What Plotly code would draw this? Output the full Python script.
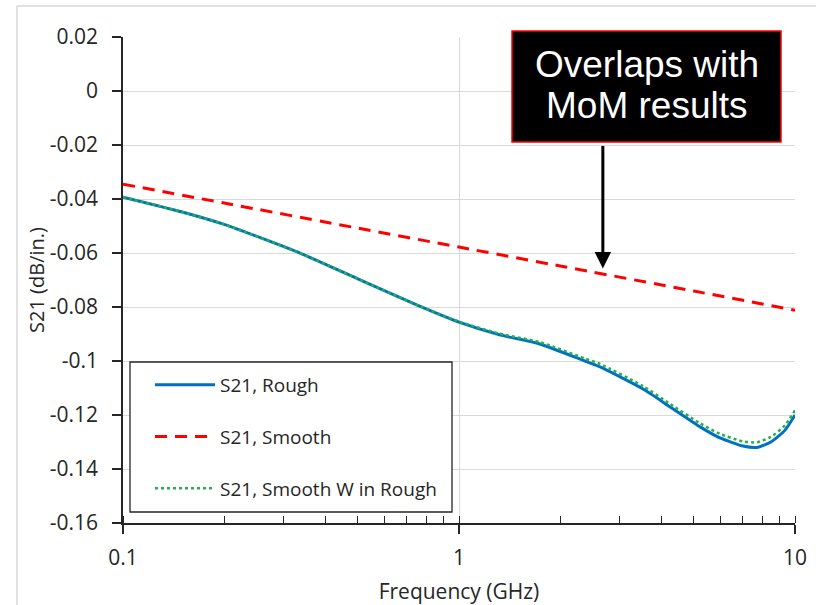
import plotly.graph_objects as go
import math

# ---------------- data ----------------
freq_rough = [0.1, 0.15, 0.2, 0.33, 0.5, 0.751, 1.0, 1.313, 1.74, 2.37, 2.63, 3.53, 4.25, 5.22, 5.98, 7.0, 7.71, 8.48, 9.34, 10.0]
s21_rough = [-0.0393, -0.0448, -0.0494, -0.0596, -0.0696, -0.0793, -0.0856, -0.0902, -0.0937, -0.1000,
             -0.1022, -0.1104, -0.1170, -0.1244, -0.1285, -0.1315, -0.1320, -0.1300, -0.1256, -0.1200]

freq_smooth = [0.1, 0.2, 0.5, 1.0, 2.0, 5.0, 10.0]
s21_smooth = [-0.0345, -0.0415, -0.0508, -0.0578, -0.0648, -0.0741, -0.0812]

freq_smw = [0.1, 0.15, 0.2, 0.33, 0.5, 0.751, 1.0, 1.313, 1.74, 2.37, 2.63, 3.53, 4.25, 5.22, 5.98, 7.0, 7.71, 8.48, 9.34, 10.0]
s21_smw = [-0.0393, -0.0448, -0.0494, -0.0596, -0.0696, -0.0793, -0.0854, -0.0898, -0.0930, -0.0991,
           -0.1011, -0.1093, -0.1159, -0.1231, -0.1270, -0.1298, -0.1301, -0.1281, -0.1238, -0.1183]

series_names = ["S21, Rough", "S21, Smooth", "S21, Smooth W in Rough"]

x_tick_vals = [0.1, 1, 10]
x_tick_text = ["0.1", "1", "10"]
y_tick_vals = [0.02, 0, -0.02, -0.04, -0.06, -0.08, -0.1, -0.12, -0.14, -0.16]
y_tick_text = ["0.02", "0", "-0.02", "-0.04", "-0.06", "-0.08", "-0.1", "-0.12", "-0.14", "-0.16"]

arrow_freq = 2.68
arrow_val = -0.0657

# ---------------- layout geometry ----------------
W, H = 816, 605
L, R, T, B = 123, 21, 37, 82
PW = W - L - R
PH = H - T - B


def px(x):
    return (x - L) / PW


def py(y):
    return (H - B - y) / PH


TXT = "#262626"
FONT = "Open Sans"
SM = 0.6

fig = go.Figure()
fig.add_trace(go.Scatter(x=freq_rough, y=s21_rough, name=series_names[0], mode="lines",
                         line=dict(color="#0070C0", width=3, shape="spline", smoothing=SM),
                         legendgroup="a"))
fig.add_trace(go.Scatter(x=freq_smooth, y=s21_smooth, name=series_names[1], mode="lines",
                         line=dict(color="#FF0000", width=3, dash="12px,8px", shape="spline", smoothing=SM),
                         legendgroup="b"))
fig.add_trace(go.Scatter(x=freq_smw, y=s21_smw, name=series_names[2], mode="lines",
                         line=dict(color="#22B14C", width=2.5, dash="dot", shape="spline", smoothing=SM),
                         legendgroup="c"))

shapes = [
    # outer chart border (top and left)
    dict(type="line", xref="paper", yref="paper", x0=px(17), x1=px(W + 5), y0=py(6), y1=py(6),
         line=dict(color="#D9D9D9", width=1.5), layer="below"),
    dict(type="line", xref="paper", yref="paper", x0=px(17), x1=px(17), y0=py(6), y1=py(H + 5),
         line=dict(color="#D9D9D9", width=1.5), layer="below"),
    # legend box
    dict(type="rect", xref="paper", yref="paper", x0=px(130), x1=px(452), y0=py(362), y1=py(512),
         fillcolor="white", line=dict(color="#262626", width=1.3), layer="above"),
    # annotation box
    dict(type="rect", xref="paper", yref="paper", x0=px(512), x1=px(781), y0=py(31), y1=py(142),
         fillcolor="black", line=dict(color="#FF0000", width=1.5), layer="above"),
]

annotations = [
    dict(xref="paper", yref="paper", x=px(646.5), y=py(64.5), text="Overlaps with", showarrow=False,
         font=dict(family="Liberation Sans", size=37, color="white"), xanchor="center", yanchor="middle"),
    dict(xref="paper", yref="paper", x=px(646.5), y=py(105), text="MoM results", showarrow=False,
         font=dict(family="Liberation Sans", size=37, color="white"), xanchor="center", yanchor="middle"),
    dict(xref="x", yref="y", x=math.log10(arrow_freq), y=arrow_val, text="", showarrow=True,
         ax=0, ay=-124, arrowhead=2, arrowsize=1.1, arrowwidth=3, arrowcolor="black", standoff=0),
]

fig.update_layout(
    width=W, height=H,
    margin=dict(l=L, r=R, t=T, b=B, pad=0, autoexpand=False),
    paper_bgcolor="white", plot_bgcolor="white",
    font=dict(family=FONT, color=TXT),
    showlegend=True,
    legend=dict(x=px(150), y=py(366), xanchor="left", yanchor="top",
                bgcolor="rgba(0,0,0,0)", borderwidth=0,
                font=dict(family=FONT, size=19, color=TXT),
                tracegroupgap=24, itemwidth=60),
    shapes=shapes,
    annotations=annotations,
    xaxis=dict(type="log", range=[-1, 1], tickvals=x_tick_vals, ticktext=x_tick_text,
               automargin=False,
               showgrid=True, gridcolor="#D9D9D9", gridwidth=1.3,
               showline=True, linecolor="#262626", linewidth=1.5,
               ticks="outside", ticklen=9, tickwidth=1.5, tickcolor="#262626",
               tickfont=dict(size=21, family=FONT, color=TXT),
               ticklabelstandoff=6,
               minor=dict(ticks="inside", ticklen=7, tickwidth=1.3, tickcolor="#262626",
                          dtick="D1", showgrid=False),
               title=dict(text="Frequency (GHz)", font=dict(size=21, family=FONT, color=TXT), standoff=16),
               zeroline=False),
    yaxis=dict(range=[-0.16, 0.02], tickvals=y_tick_vals, ticktext=y_tick_text,
               automargin=False,
               showgrid=True, gridcolor="#D9D9D9", gridwidth=1.3,
               showline=True, linecolor="#262626", linewidth=1.5,
               ticks="outside", ticklen=9, tickwidth=1.5, tickcolor="#262626",
               tickfont=dict(size=21, family=FONT, color=TXT),
               ticklabelstandoff=10,
               title=dict(text="S21 (dB/in.)", font=dict(size=20, family=FONT, color=TXT), standoff=0),
               zeroline=False),
    xaxis2=dict(type="log", range=[-1, 1], overlaying="x", anchor="y", side="bottom",
                automargin=False,
                tickvals=x_tick_vals, showticklabels=False, ticks="inside", ticklen=7, tickwidth=1.5,
                tickcolor="#262626", showgrid=False, showline=False, zeroline=False),
    yaxis2=dict(range=[-0.16, 0.02], overlaying="y", anchor="x", side="left",
                automargin=False,
                tickvals=y_tick_vals, showticklabels=False, ticks="inside", ticklen=7, tickwidth=1.5,
                tickcolor="#262626", showgrid=False, showline=False, zeroline=False),
)

fig.write_html("out.html")
